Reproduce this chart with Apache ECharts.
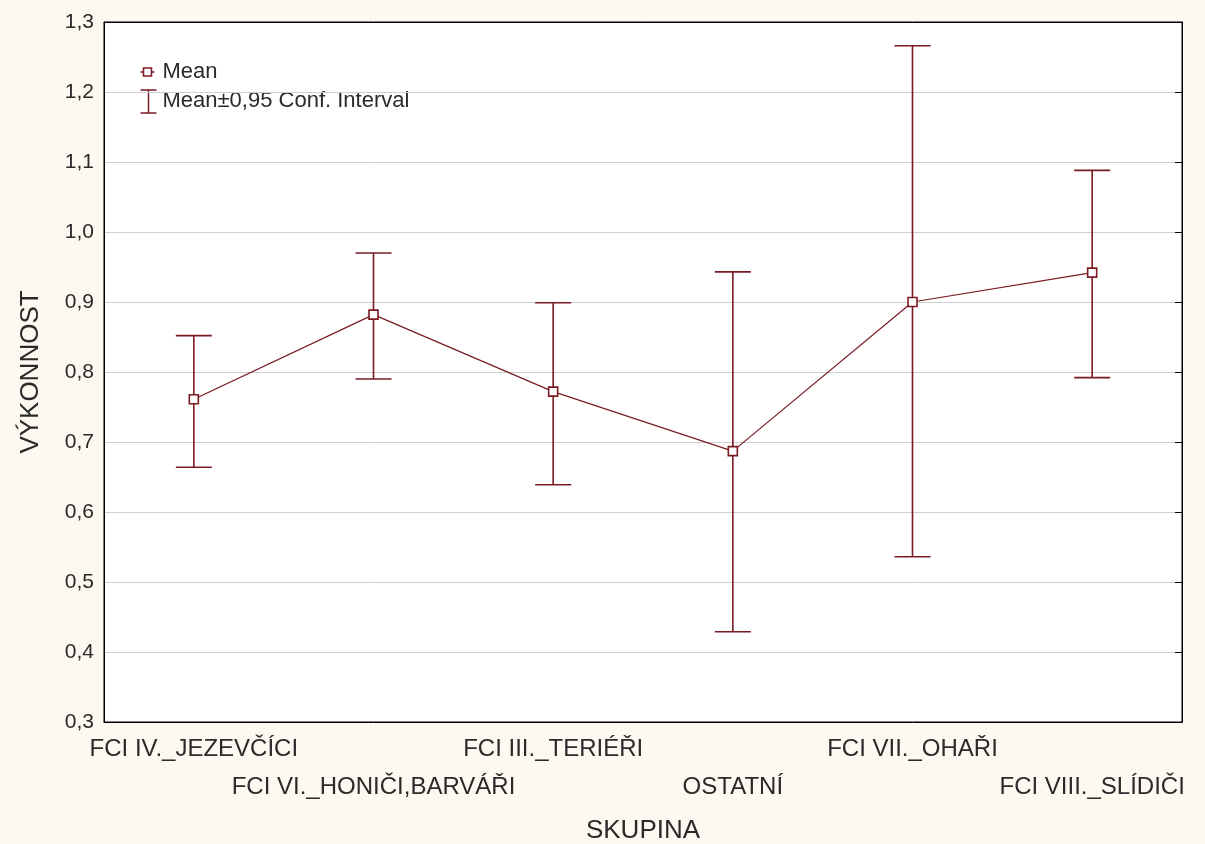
<!DOCTYPE html>
<html>
<head>
<meta charset="utf-8">
<script src="https://cdn.jsdelivr.net/npm/echarts@6/dist/echarts.min.js"></script>
<style>
html,body{margin:0;padding:0;background:#fdf8f0;}
#c{width:1205px;height:844px;}
</style>
</head>
<body>
<div id="c"></div>
<script>
const categories = ['FCI IV._JEZEVČÍCI','FCI VI._HONIČI,BARVÁŘI','FCI III._TERIÉŘI','OSTATNÍ','FCI VII._OHAŘI','FCI VIII._SLÍDIČI'];
const meanValues = [0.761, 0.882, 0.772, 0.687, 0.900, 0.942];
const upperValues = [0.852, 0.970, 0.899, 0.943, 1.266, 1.088];
const lowerValues = [0.664, 0.790, 0.639, 0.429, 0.536, 0.792];
const yTicks = [0.3,0.4,0.5,0.6,0.7,0.8,0.9,1.0,1.1,1.2,1.3];

const RED = '#7a1a22';
const FONT = '"Liberation Sans",Arial,sans-serif';
const TXT = '#2a2a2a';

const chart = echarts.init(document.getElementById('c'));
const ciData = categories.map((c,i)=>[i, lowerValues[i], upperValues[i]]);

chart.setOption({
  backgroundColor: '#fdf8f0',
  animation: false,
  grid: {left:104, right:23, top:22, bottom:122, outerBoundsMode:'none', containLabel:false,
    show:true, backgroundColor:'#fff', borderColor:'#000', borderWidth:1},
  xAxis: [{
    type:'category', data:categories, boundaryGap:true, position:'bottom',
    name:'SKUPINA', nameLocation:'middle', nameGap:96,
    nameTextStyle:{fontFamily:FONT, fontSize:26, color:TXT},
    axisLine:{lineStyle:{color:'#000', width:1}},
    axisTick:{inside:true, alignWithLabel:true, length:7, lineStyle:{color:'#000'}},
    axisLabel:{interval:0, fontFamily:FONT, fontSize:24, color:TXT, margin:8, lineHeight:38,
      formatter:(v)=>{const i=categories.indexOf(v); return i%2===1 ? '\n'+v : v;}},
    splitLine:{show:false}
  },{
    type:'category', data:categories, boundaryGap:true, position:'top',
    axisLine:{lineStyle:{color:'#000'}},
    axisTick:{inside:true, alignWithLabel:true, length:7, lineStyle:{color:'#000'}},
    axisLabel:{show:false}, splitLine:{show:false}
  }],
  yAxis: [{
    type:'value', min:0.3, max:1.3, interval:0.1, position:'left',
    name:'VÝKONNOST', nameLocation:'middle', nameGap:60, nameRotate:90,
    nameTextStyle:{fontFamily:FONT, fontSize:26, color:TXT},
    axisLine:{show:true, lineStyle:{color:'#000'}},
    axisTick:{show:false},
    axisLabel:{fontFamily:FONT, fontSize:21, color:TXT, margin:10,
      formatter:(v)=>v.toFixed(1).replace('.',',')},
    splitLine:{show:true, lineStyle:{color:'#cfcfcf', width:1}}
  },{
    type:'value', min:0.3, max:1.3, interval:0.1, position:'right',
    axisLine:{show:true, lineStyle:{color:'#000'}},
    axisTick:{show:true, inside:true, length:7, lineStyle:{color:'#000'}},
    axisLabel:{show:false}, splitLine:{show:false}
  }],
  series: [{
    name:'Mean±0,95 Conf. Interval', type:'custom', data:ciData, z:3,
    renderItem:(params, api)=>{
      const x = api.value(0);
      const lo = api.coord([x, api.value(1)]);
      const hi = api.coord([x, api.value(2)]);
      const hw = 18;
      const st = {stroke:RED, lineWidth:1.6, fill:null};
      return {type:'group', children:[
        {type:'line', shape:{x1:lo[0], y1:lo[1], x2:hi[0], y2:hi[1]}, style:st},
        {type:'line', shape:{x1:lo[0]-hw, y1:lo[1], x2:lo[0]+hw, y2:lo[1]}, style:st},
        {type:'line', shape:{x1:hi[0]-hw, y1:hi[1], x2:hi[0]+hw, y2:hi[1]}, style:st}
      ]};
    }
  },{
    name:'Mean', type:'line', data:meanValues, z:4,
    symbol:'rect', symbolSize:9,
    lineStyle:{color:RED, width:1.2},
    itemStyle:{color:'#fff', borderColor:RED, borderWidth:1.6}
  }],
  graphic: [{
    type:'group', left:138, top:61, children:[
      {type:'line', shape:{x1:0,y1:11,x2:14,y2:11}, style:{stroke:RED, lineWidth:1.5}},
      {type:'rect', shape:{x:3,y:7,width:8,height:8}, style:{stroke:RED, fill:'#fff', lineWidth:1.5}},
      {type:'text', x:22, y:0, style:{text:'Mean', font:'22px '+FONT, fill:TXT}},
      {type:'line', shape:{x1:8,y1:29,x2:8,y2:52}, style:{stroke:RED, lineWidth:1.5}},
      {type:'line', shape:{x1:0,y1:29,x2:16,y2:29}, style:{stroke:RED, lineWidth:1.5}},
      {type:'line', shape:{x1:0,y1:52,x2:16,y2:52}, style:{stroke:RED, lineWidth:1.5}},
      {type:'text', x:22, y:29, style:{text:'Mean±0,95 Conf. Interval', font:'22px '+FONT, fill:TXT}}
    ]
  }]
});
</script>
</body>
</html>
